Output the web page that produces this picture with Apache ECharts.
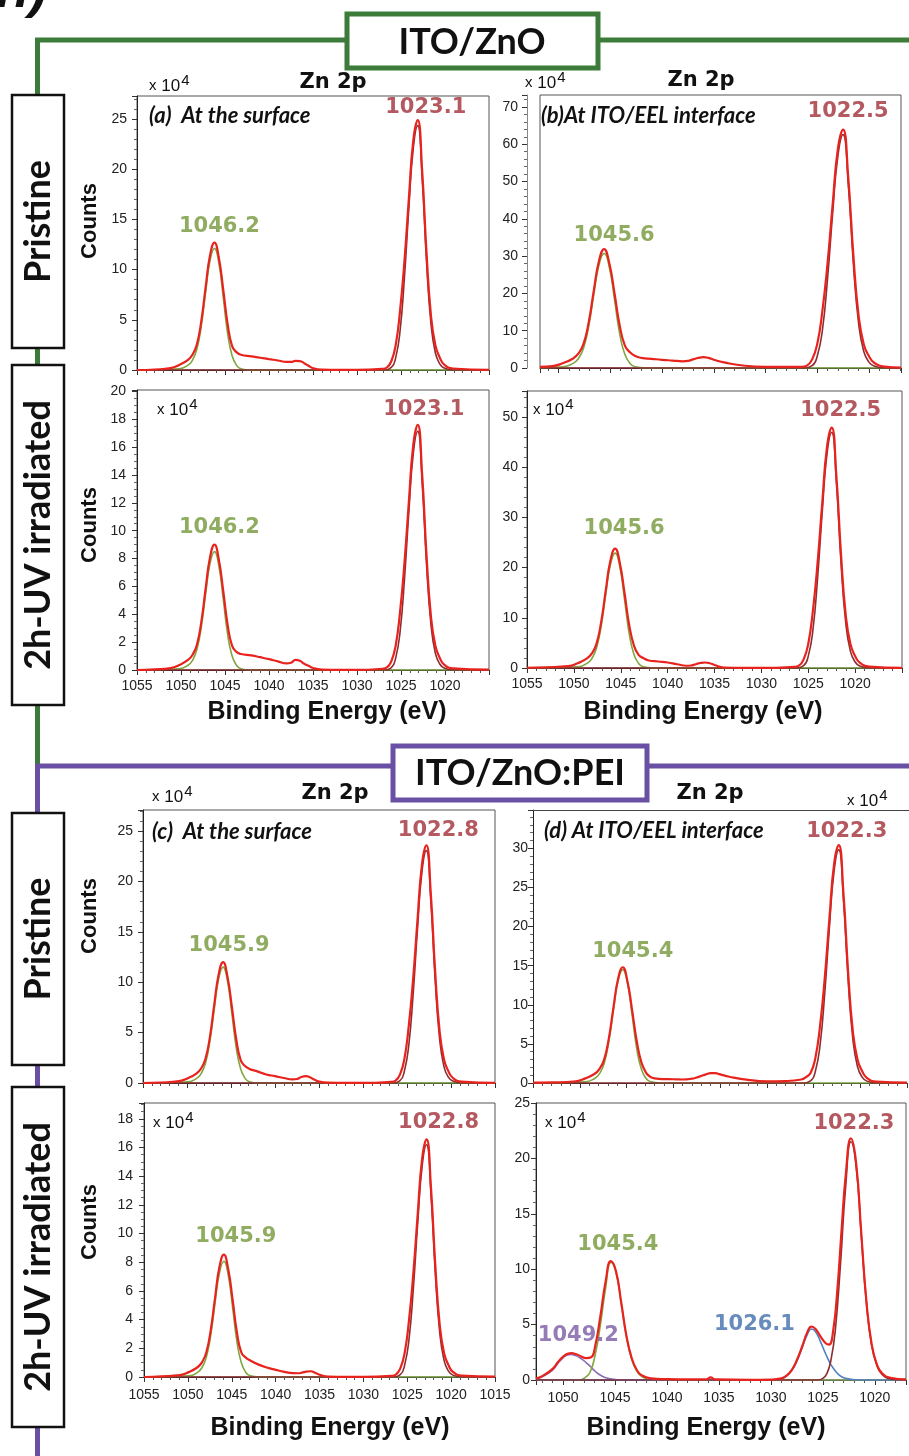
<!DOCTYPE html>
<html>
<head>
<meta charset="utf-8">
<script src="https://cdn.jsdelivr.net/npm/echarts@6/dist/echarts.min.js"></script>
<style>
  html, body { margin: 0; padding: 0; background: #fff; }
  #chart { width: 909px; height: 1456px; }
</style>
</head>
<body>
<div id="chart"></div>
<script>
// Zn 2p XPS spectra: binding energy (eV) vs counts (x10^4)
// Each curve is a list of [binding energy, counts] pairs.

// (a) ITO/ZnO, pristine, at the surface
const aMeasured = [[1055,0],[1053,0.05],[1051.2,0.19],[1050.2,0.51],[1049.2,1.02],[1048.7,1.52],[1048.2,2.54],[1047.7,4.83],[1047.2,8.26],[1046.7,11.43],[1046.2,12.7],[1045.7,11.18],[1045.2,8.0],[1044.7,4.57],[1044.2,2.41],[1043.7,1.78],[1043.2,1.52],[1042,1.35],[1041,1.22],[1040,1.08],[1039,0.95],[1038,0.8],[1037.5,0.8],[1037,0.9],[1036.5,0.88],[1036,0.68],[1035.5,0.42],[1035,0.18],[1034,0.04],[1032,0.02],[1030,0.02],[1027.1,0.12],[1026.6,0.25],[1026.1,0.87],[1025.6,2.49],[1025.1,5.98],[1024.6,10.96],[1024.1,17.18],[1023.6,22.91],[1023.1,24.9],[1022.6,19.92],[1022.1,11.7],[1021.6,5.48],[1021.1,2.49],[1020.6,1.25],[1020.1,0.55],[1019.1,0.15],[1015,0.02]];
const aFit2p12 = [[1055,0],[1050.2,0.12],[1049.2,0.48],[1048.7,0.97],[1048.2,2.06],[1047.7,4.36],[1047.2,7.74],[1046.7,10.89],[1046.2,12.1],[1045.7,10.65],[1045.2,7.26],[1044.7,3.63],[1044.2,1.45],[1043.7,0.48],[1043.2,0.12],[1042.2,0],[1015,0]];
const aFit2p32 = [[1055,0],[1027.1,0],[1026.1,0.25],[1025.6,1.23],[1025.1,3.94],[1024.6,9.35],[1024.1,16.24],[1023.6,22.14],[1023.1,24.35],[1022.6,19.19],[1022.1,10.82],[1021.6,4.67],[1021.1,1.72],[1020.6,0.62],[1020.1,0.2],[1019.1,0],[1015,0]];
const aPeaks = [1046.2, 1023.1];

// (a) ITO/ZnO, 2h-UV irradiated, at the surface
const a2Measured = [[1055,0],[1053,0.04],[1051.2,0.14],[1050.2,0.36],[1049.2,0.72],[1048.7,1.08],[1048.2,1.8],[1047.7,3.42],[1047.2,5.85],[1046.7,8.1],[1046.2,9.0],[1045.7,7.92],[1045.2,5.67],[1044.7,3.24],[1044.2,1.75],[1043.7,1.3],[1043.2,1.15],[1042,1.05],[1041,0.92],[1040,0.78],[1039,0.62],[1038,0.48],[1037.5,0.52],[1037,0.72],[1036.5,0.66],[1036,0.45],[1035.5,0.3],[1035,0.14],[1034,0.03],[1032,0.01],[1030,0.01],[1027.1,0.09],[1026.6,0.18],[1026.1,0.62],[1025.6,1.76],[1025.1,4.22],[1024.6,7.74],[1024.1,12.14],[1023.6,16.19],[1023.1,17.6],[1022.6,14.08],[1022.1,8.27],[1021.6,3.87],[1021.1,1.76],[1020.6,0.88],[1020.1,0.39],[1019.1,0.11],[1015,0.02]];
const a2Fit2p12 = [[1055,0],[1050.2,0.09],[1049.2,0.34],[1048.7,0.68],[1048.2,1.45],[1047.7,3.06],[1047.2,5.44],[1046.7,7.65],[1046.2,8.5],[1045.7,7.48],[1045.2,5.1],[1044.7,2.55],[1044.2,1.02],[1043.7,0.34],[1043.2,0.09],[1042.2,0],[1015,0]];
const a2Fit2p32 = [[1055,0],[1027.1,0],[1026.1,0.17],[1025.6,0.87],[1025.1,2.77],[1024.6,6.57],[1024.1,11.42],[1023.6,15.57],[1023.1,17.13],[1022.6,13.49],[1022.1,7.61],[1021.6,3.29],[1021.1,1.21],[1020.6,0.43],[1020.1,0.14],[1019.1,0],[1015,0]];
const a2Peaks = [1046.2, 1023.1];

// (b) ITO/ZnO, pristine, at ITO/EEL interface
const bMeasured = [[1051.8,0.3],[1050.6,0.48],[1049.6,1.28],[1048.6,2.55],[1048.1,3.83],[1047.6,6.38],[1047.1,12.12],[1046.6,20.74],[1046.1,28.71],[1045.6,31.9],[1045.1,28.07],[1044.6,20.1],[1044.1,11.48],[1043.6,6.06],[1043.1,4.2],[1042.6,3.2],[1042,2.7],[1041,2.45],[1040,2.2],[1039,2.0],[1038,1.8],[1037.5,1.9],[1037,2.3],[1036.5,2.7],[1036,2.9],[1035.5,2.7],[1035,2.2],[1034,1.5],[1032,0.6],[1030,0.3],[1026.5,0.32],[1026,0.64],[1025.5,2.24],[1025,6.39],[1024.5,15.34],[1024,28.12],[1023.5,44.09],[1023,58.79],[1022.5,63.9],[1022,51.12],[1021.5,30.03],[1021,14.06],[1020.5,6.39],[1020,3.2],[1019.5,1.41],[1018.5,0.38],[1016.9,0.1]];
const bFit2p12 = [[1051.8,0],[1049.6,0.31],[1048.6,1.23],[1048.1,2.46],[1047.6,5.22],[1047.1,11.05],[1046.6,19.65],[1046.1,27.63],[1045.6,30.7],[1045.1,27.02],[1044.6,18.42],[1044.1,9.21],[1043.6,3.68],[1043.1,1.23],[1042.6,0.31],[1041.6,0],[1016.9,0]];
const bFit2p32 = [[1051.8,0],[1026.5,0],[1025.5,0.63],[1025,3.16],[1024.5,10.11],[1024,24.02],[1023.5,41.71],[1023,56.88],[1022.5,62.57],[1022,49.3],[1021.5,27.81],[1021,12.01],[1020.5,4.42],[1020,1.58],[1019.5,0.51],[1018.5,0],[1016.9,0]];
const bPeaks = [1045.6, 1022.5];

// (b) ITO/ZnO, 2h-UV irradiated, at ITO/EEL interface
const b2Measured = [[1055,0.05],[1053,0.15],[1050.6,0.36],[1049.6,0.95],[1048.6,1.9],[1048.1,2.86],[1047.6,4.76],[1047.1,9.04],[1046.6,15.47],[1046.1,21.42],[1045.6,23.8],[1045.1,20.94],[1044.6,14.99],[1044.1,8.57],[1043.6,4.52],[1043.1,2.6],[1042.6,2.0],[1042,1.5],[1041,1.3],[1040,1.1],[1039,0.75],[1038,0.45],[1037.5,0.5],[1037,0.75],[1036.5,1.0],[1036,1.1],[1035.5,0.95],[1035,0.6],[1034,0.1],[1032,0.02],[1030,0.02],[1026.5,0.24],[1026,0.48],[1025.5,1.68],[1025,4.79],[1024.5,11.5],[1024,21.08],[1023.5,33.05],[1023,44.07],[1022.5,47.9],[1022,38.32],[1021.5,22.51],[1021,10.54],[1020.5,4.79],[1020,2.4],[1019.5,1.05],[1018.5,0.29],[1015,0.02]];
const b2Fit2p12 = [[1055,0],[1049.6,0.23],[1048.6,0.92],[1048.1,1.83],[1047.6,3.89],[1047.1,8.24],[1046.6,14.66],[1046.1,20.61],[1045.6,22.9],[1045.1,20.15],[1044.6,13.74],[1044.1,6.87],[1043.6,2.75],[1043.1,0.92],[1042.6,0.23],[1041.6,0],[1015,0]];
const b2Fit2p32 = [[1055,0],[1026.5,0],[1025.5,0.47],[1025,2.37],[1024.5,7.58],[1024,18.01],[1023.5,31.28],[1023,42.66],[1022.5,46.93],[1022,36.97],[1021.5,20.86],[1021,9.01],[1020.5,3.32],[1020,1.19],[1019.5,0.38],[1018.5,0],[1015,0]];
const b2Peaks = [1045.6, 1022.5];

// (c) ITO/ZnO:PEI, pristine, at the surface
const cMeasured = [[1055,0],[1053,0.05],[1050.9,0.18],[1049.9,0.48],[1048.9,0.96],[1048.4,1.44],[1047.9,2.4],[1047.4,4.56],[1046.9,7.8],[1046.4,10.8],[1045.9,12.0],[1045.4,10.56],[1044.9,7.56],[1044.4,4.32],[1043.9,2.28],[1043.4,1.68],[1042.9,1.4],[1042,1.15],[1041,0.85],[1040,0.68],[1039,0.5],[1038,0.36],[1037.5,0.4],[1037,0.6],[1036.5,0.68],[1036,0.55],[1035.5,0.32],[1035,0.15],[1034,0.04],[1032,0.01],[1030,0.01],[1026.8,0.12],[1026.3,0.24],[1025.8,0.83],[1025.3,2.36],[1024.8,5.66],[1024.3,10.38],[1023.8,16.28],[1023.3,21.71],[1022.8,23.6],[1022.3,18.88],[1021.8,11.09],[1021.3,5.19],[1020.8,2.36],[1020.3,1.18],[1019.8,0.52],[1018.8,0.14],[1015,0.02]];
const cFit2p12 = [[1055,0],[1049.9,0.12],[1048.9,0.46],[1048.4,0.92],[1047.9,1.96],[1047.4,4.14],[1046.9,7.36],[1046.4,10.35],[1045.9,11.5],[1045.4,10.12],[1044.9,6.9],[1044.4,3.45],[1043.9,1.38],[1043.4,0.46],[1042.9,0.12],[1041.9,0],[1015,0]];
const cFit2p32 = [[1055,0],[1026.8,0],[1025.8,0.23],[1025.3,1.17],[1024.8,3.73],[1024.3,8.85],[1023.8,15.38],[1023.3,20.97],[1022.8,23.07],[1022.3,18.17],[1021.8,10.25],[1021.3,4.43],[1020.8,1.63],[1020.3,0.58],[1019.8,0.19],[1018.8,0],[1015,0]];
const cPeaks = [1045.9, 1022.8];

// (c) ITO/ZnO:PEI, 2h-UV irradiated, at the surface
const c2Measured = [[1055,0],[1053,0.05],[1050.9,0.13],[1049.9,0.34],[1048.9,0.68],[1048.4,1.02],[1047.9,1.71],[1047.4,3.24],[1046.9,5.54],[1046.4,7.68],[1045.9,8.53],[1045.4,7.51],[1044.9,5.37],[1044.4,3.07],[1043.9,1.7],[1043.4,1.35],[1042.9,1.15],[1042,0.88],[1041,0.66],[1040,0.5],[1039,0.36],[1038,0.27],[1037.5,0.26],[1037,0.3],[1036.5,0.38],[1036,0.4],[1035.5,0.3],[1035,0.16],[1034,0.03],[1032,0.01],[1030,0.01],[1026.8,0.08],[1026.3,0.17],[1025.8,0.58],[1025.3,1.66],[1024.8,3.97],[1024.3,7.29],[1023.8,11.43],[1023.3,15.24],[1022.8,16.56],[1022.3,13.25],[1021.8,7.78],[1021.3,3.64],[1020.8,1.66],[1020.3,0.83],[1019.8,0.36],[1018.8,0.1],[1015,0.02]];
const c2Fit2p12 = [[1055,0],[1049.9,0.08],[1048.9,0.32],[1048.4,0.65],[1047.9,1.37],[1047.4,2.91],[1046.9,5.16],[1046.4,7.26],[1045.9,8.07],[1045.4,7.1],[1044.9,4.84],[1044.4,2.42],[1043.9,0.97],[1043.4,0.32],[1042.9,0.08],[1041.9,0],[1015,0]];
const c2Fit2p32 = [[1055,0],[1026.8,0],[1025.8,0.16],[1025.3,0.82],[1024.8,2.62],[1024.3,6.21],[1023.8,10.79],[1023.3,14.72],[1022.8,16.19],[1022.3,12.75],[1021.8,7.19],[1021.3,3.11],[1020.8,1.14],[1020.3,0.41],[1019.8,0.13],[1018.8,0],[1015,0]];
const c2Peaks = [1045.9, 1022.8];

// (d) ITO/ZnO:PEI, pristine, at ITO/EEL interface
const dMeasured = [[1055,0.05],[1053,0.08],[1050.4,0.22],[1049.4,0.59],[1048.4,1.18],[1047.9,1.78],[1047.4,2.96],[1046.9,5.62],[1046.4,9.62],[1045.9,13.32],[1045.4,14.8],[1044.9,13.02],[1044.4,9.32],[1043.9,5.33],[1043.4,2.6],[1042.9,1.3],[1042.4,0.75],[1042,0.6],[1041,0.5],[1040,0.48],[1039,0.45],[1038,0.55],[1037.5,0.7],[1037,0.9],[1036.5,1.1],[1036,1.25],[1035.5,1.25],[1035,1.1],[1034,0.8],[1032,0.4],[1030,0.22],[1028,0.25],[1026.3,0.45],[1025.8,0.75],[1025.3,1.3],[1024.8,3.2],[1024.3,7.3],[1023.8,13.38],[1023.3,20.98],[1022.8,27.97],[1022.3,30.4],[1021.8,24.32],[1021.3,14.29],[1020.8,6.69],[1020.3,3.04],[1019.8,1.52],[1019.3,0.67],[1018.3,0.18],[1015,0.05]];
const dFit2p12 = [[1055,0],[1049.4,0.15],[1048.4,0.58],[1047.9,1.16],[1047.4,2.47],[1046.9,5.22],[1046.4,9.28],[1045.9,13.05],[1045.4,14.5],[1044.9,12.76],[1044.4,8.7],[1043.9,4.35],[1043.4,1.74],[1042.9,0.58],[1042.4,0.15],[1041.4,0],[1015,0]];
const dFit2p32 = [[1055,0],[1026.3,0],[1025.3,0.3],[1024.8,1.51],[1024.3,4.82],[1023.8,11.44],[1023.3,19.87],[1022.8,27.09],[1022.3,29.8],[1021.8,23.48],[1021.3,13.24],[1020.8,5.72],[1020.3,2.11],[1019.8,0.75],[1019.3,0.24],[1018.3,0],[1015,0]];
const dPeaks = [1045.4, 1022.3];

// (d) ITO/ZnO:PEI, 2h-UV irradiated, at ITO/EEL interface (four components)
const d2Measured = [[1052.6,0.15],[1052,0.35],[1051,1.0],[1050.5,1.6],[1050,2.1],[1049.5,2.38],[1049.2,2.42],[1048.8,2.35],[1048.3,2.15],[1047.8,1.98],[1047.3,2.05],[1046.9,3.1],[1046.4,5.8],[1045.9,8.9],[1045.4,10.72],[1044.9,9.8],[1044.4,7.0],[1043.9,4.0],[1043.4,2.0],[1042.9,0.9],[1042.4,0.4],[1041.5,0.15],[1040,0.08],[1038,0.05],[1036.2,0.06],[1035.8,0.24],[1035.4,0.06],[1032,0.02],[1030,0.04],[1029,0.15],[1028.5,0.4],[1028,0.9],[1027.5,1.8],[1027,3.0],[1026.5,4.3],[1026.1,4.83],[1025.7,4.6],[1025.2,3.9],[1024.7,3.3],[1024.4,3.2],[1024,4.5],[1023.6,8.2],[1023.2,13.5],[1022.8,18.5],[1022.3,21.8],[1021.8,19.6],[1021.3,13.2],[1020.8,7.0],[1020.3,3.2],[1019.8,1.4],[1019.3,0.6],[1018.5,0.2],[1017,0.05]];
const d2Fit1049 = [[1052.6,0.1],[1052,0.3],[1051,0.9],[1050.5,1.5],[1050,2.0],[1049.6,2.25],[1049.2,2.3],[1048.8,2.2],[1048.3,1.95],[1047.8,1.6],[1047.3,1.15],[1046.8,0.7],[1046.3,0.38],[1045.8,0.18],[1045,0.05],[1044,0],[1017,0]];
const d2Fit2p12 = [[1052.6,0],[1048.4,0],[1047.9,0.2],[1047.4,0.7],[1046.9,2.3],[1046.4,5.0],[1045.9,8.3],[1045.4,10.6],[1044.9,9.7],[1044.4,6.9],[1043.9,3.9],[1043.4,1.9],[1042.9,0.8],[1042.4,0.3],[1041.4,0],[1017,0]];
const d2Fit1026 = [[1052.6,0],[1030,0],[1029,0.1],[1028.5,0.35],[1028,0.85],[1027.5,1.7],[1027,2.9],[1026.5,4.1],[1026.1,4.6],[1025.7,4.35],[1025.2,3.4],[1024.7,2.3],[1024.2,1.35],[1023.7,0.7],[1023.2,0.3],[1022.5,0.1],[1021.5,0],[1017,0]];
const d2Fit2p32 = [[1052.6,0],[1025.5,0],[1025,0.15],[1024.6,0.6],[1024.2,1.9],[1023.8,4.5],[1023.3,10.5],[1022.8,17.5],[1022.3,21.5],[1021.8,19.3],[1021.3,13.0],[1020.8,6.9],[1020.3,3.1],[1019.8,1.3],[1019.3,0.5],[1018.5,0.1],[1017.5,0],[1017,0]];
const d2Peaks = [1049.2, 1045.4, 1026.1, 1022.3];

// ---------- styling ----------
const RED = '#e8231e', GREEN = '#7fa640', DARKRED = '#8c2d30', PURPLE = '#8b6cb8', BLUE = '#4f80c3';
const LBL_GREEN = '#74973a', LBL_RED = '#a2303a', LBL_PURPLE = '#7a5ba4', LBL_BLUE = '#406eab';
const FRAME_GREEN = '#3d7b3b', FRAME_PURPLE = '#6a50a4';
const TICK_FONT = 'Liberation Sans';

const panels = [
  { measured: aMeasured, fits: [[aFit2p12, GREEN], [aFit2p32, DARKRED]], peaks: aPeaks,
    peakStyle: [[LBL_GREEN, [5, -16]], [LBL_RED, [8, -13]]],
    box: [137, 96, 352, 274], xRange: [1015, 1055], xInterval: 5, xLabels: false,
    yMax: 27.3, yInterval: 5, yMinor: 5, yMargin: 10 },
  { measured: a2Measured, fits: [[a2Fit2p12, GREEN], [a2Fit2p32, DARKRED]], peaks: a2Peaks,
    peakStyle: [[LBL_GREEN, [5, -17]], [LBL_RED, [6, -15]]],
    box: [137, 390, 352, 280], xRange: [1015, 1055], xInterval: 5, xLabels: true, xHide: [1015], xMargin: 9,
    yMax: 20.1, yInterval: 2, yMinor: 4, yMargin: 11 },
  { measured: bMeasured, fits: [[bFit2p12, GREEN], [bFit2p32, DARKRED]], peaks: bPeaks,
    peakStyle: [[LBL_GREEN, [10, -13]], [LBL_RED, [5, -18]]],
    box: [540, 95, 361, 273], xRange: [1016.9, 1051.8], xInterval: null, xLabels: false,
    yMax: 73.2, yInterval: 10, yMinor: 5, yMargin: 9, yOffset: 13, yLine: '#888' },
  { measured: b2Measured, fits: [[b2Fit2p12, GREEN], [b2Fit2p32, DARKRED]], peaks: b2Peaks,
    peakStyle: [[LBL_GREEN, [9, -20]], [LBL_RED, [9, -17]]],
    box: [527, 391, 375, 277], xRange: [1015, 1055], xInterval: 5, xLabels: true, xHide: [1015], xMargin: 9,
    yMax: 55.2, yInterval: 10, yMinor: 5, yMargin: 9 },
  { measured: cMeasured, fits: [[cFit2p12, GREEN], [cFit2p32, DARKRED]], peaks: cPeaks,
    peakStyle: [[LBL_GREEN, [6, -17]], [LBL_RED, [12, -15]]],
    box: [143, 810, 352, 273], xRange: [1015, 1055], xInterval: 5, xLabels: false,
    yMax: 27.1, yInterval: 5, yMinor: 5, yMargin: 10 },
  { measured: c2Measured, fits: [[c2Fit2p12, GREEN], [c2Fit2p32, DARKRED]], peaks: c2Peaks,
    peakStyle: [[LBL_GREEN, [12, -18]], [LBL_RED, [12, -17]]],
    box: [144, 1103, 351, 274], xRange: [1015, 1055], xInterval: 5, xLabels: true, xMargin: 11,
    yMax: 19.1, yInterval: 2, yMinor: 4, yMargin: 11 },
  { measured: dMeasured, fits: [[dFit2p12, GREEN], [dFit2p32, DARKRED]], peaks: dPeaks,
    peakStyle: [[LBL_GREEN, [10, -16]], [LBL_RED, [8, -14]]],
    box: [533, 810, 374, 273], frame: false, xRange: [1015, 1055], xInterval: 5, xLabels: false,
    yMax: 34.9, yInterval: 5, yMinor: 5, yMargin: 5 },
  { measured: d2Measured, fits: [[d2Fit1049, PURPLE], [d2Fit2p12, GREEN], [d2Fit1026, BLUE], [d2Fit2p32, DARKRED]], peaks: d2Peaks,
    peakStyle: [[LBL_PURPLE, [7, -18]], [LBL_GREEN, [7, -17]], [LBL_BLUE, [-57, -2]], [LBL_RED, [3, -15]]],
    box: [536, 1103, 372, 277], xRange: [1017, 1052.6], xInterval: null, xLabels: true, xMargin: 11,
    yMax: 25, yInterval: 5, yMinor: 5, yMargin: 6 }
];

function onStep(v, step) {
  const r = v / step;
  return Math.abs(r - Math.round(r)) < 1e-6;
}
function countsAt(curve, e) {
  const p = curve.find(d => Math.abs(d[0] - e) < 1e-6);
  return p ? p[1] : 0;
}

const grids = [], xAxes = [], yAxes = [], series = [];

panels.forEach((p, i) => {
  grids.push({
    left: p.box[0], top: p.box[1], width: p.box[2], height: p.box[3],
    show: p.frame !== false, borderColor: '#555', borderWidth: 1, backgroundColor: 'transparent'
  });
  const hide = p.xHide || [];
  const xAxis = {
    type: 'value', gridIndex: i, inverse: true, min: p.xRange[0], max: p.xRange[1],
    axisLine: { show: true, onZero: false, lineStyle: { color: '#222', width: 1 } },
    axisTick: { show: true, length: 5, lineStyle: { color: '#333', width: 1 } },
    minorTick: { show: true, splitNumber: 5, length: 3, lineStyle: { color: '#555', width: 1 } },
    splitLine: { show: false },
    axisLabel: {
      show: p.xLabels, margin: p.xMargin || 10, fontFamily: TICK_FONT, fontSize: 14, color: '#222',
      formatter: v => (onStep(v, 5) && hide.indexOf(v) < 0) ? String(Math.round(v)) : ''
    }
  };
  if (p.xInterval) xAxis.interval = p.xInterval; else xAxis.splitNumber = 7;
  xAxes.push(xAxis);

  yAxes.push({
    type: 'value', gridIndex: i, min: 0, max: p.yMax, interval: p.yInterval, offset: p.yOffset || 0,
    axisLine: { show: true, onZero: false, lineStyle: { color: p.yLine || '#222', width: 1 } },
    axisTick: { show: true, length: 5, lineStyle: { color: '#333', width: 1 } },
    minorTick: { show: true, splitNumber: p.yMinor, length: 3, lineStyle: { color: '#666', width: 1 } },
    splitLine: { show: false },
    axisLabel: {
      margin: p.yMargin, fontFamily: TICK_FONT, fontSize: 14, color: '#222',
      formatter: v => onStep(v, p.yInterval) ? String(Math.round(v)) : ''
    }
  });

  // fitted components underneath
  p.fits.forEach(([curve, color]) => {
    series.push({
      type: 'line', xAxisIndex: i, yAxisIndex: i, data: curve,
      showSymbol: false, symbol: 'none', smooth: 0.5,
      lineStyle: { color: color, width: 1.6 }, z: 2, silent: true, animation: false
    });
  });
  // measured envelope on top
  series.push({
    type: 'line', xAxisIndex: i, yAxisIndex: i, data: p.measured,
    showSymbol: false, symbol: 'none', smooth: 0.5,
    lineStyle: { color: RED, width: 2.2 }, z: 3, silent: true, animation: false
  });
  // peak position labels, anchored on the measured curve
  series.push({
    type: 'scatter', xAxisIndex: i, yAxisIndex: i, symbolSize: 1, z: 5, silent: true, animation: false,
    itemStyle: { color: 'rgba(0,0,0,0)' },
    data: p.peaks.map((e, k) => ({
      value: [e, countsAt(p.measured, e)],
      label: { color: p.peakStyle[k][0], offset: p.peakStyle[k][1] }
    })),
    label: {
      show: true, position: 'inside', fontFamily: 'DejaVu Sans', fontWeight: 'bold', fontSize: 21,
      formatter: d => d.value[0].toFixed(1)
    }
  });
});

// ---------- figure furniture ----------
const g = [];
const poly = (pts, color, w) => ({ type: 'polyline', silent: true, z: 1,
  shape: { points: pts }, style: { stroke: color, lineWidth: w, fill: null } });
const box = (x, y, w, h, color, lw) => ({ type: 'rect', silent: true, z: 2,
  shape: { x: x, y: y, width: w, height: h }, style: { fill: '#fff', stroke: color, lineWidth: lw } });
const text = (t, x, y, opts) => Object.assign({ type: 'text', silent: true, z: 3, x: x, y: y,
  style: Object.assign({ text: t, fill: '#111', textAlign: 'center', textVerticalAlign: 'middle' }, opts.style || {}) },
  opts.rotation ? { rotation: opts.rotation } : {});

// partial panel tag at the very top
g.push(text('h)', -4, -8, { style: { textAlign: 'left', fontFamily: 'Liberation Sans', fontWeight: 'bold', fontStyle: 'italic', fontSize: 54 } }));

// group connectors
g.push(poly([[37.5, 766], [37.5, 40], [347, 40]], FRAME_GREEN, 5));
g.push(poly([[598, 40], [912, 40]], FRAME_GREEN, 5));
g.push(poly([[37.5, 1460], [37.5, 766], [393, 766]], FRAME_PURPLE, 5));
g.push(poly([[647, 766], [912, 766]], FRAME_PURPLE, 5));

// group title boxes
g.push(box(347, 14, 251, 54, FRAME_GREEN, 5));
g.push(text('ITO/ZnO', 472, 42, { style: { fontFamily: 'Lato', fontWeight: 'bold', fontSize: 36 } }));
g.push(box(393, 746, 254, 54, FRAME_PURPLE, 5));
g.push(text('ITO/ZnO:PEI', 520, 773, { style: { fontFamily: 'Lato', fontWeight: 'bold', fontSize: 36 } }));

// row label boxes
const rowLabels = [['Pristine', 95, 253], ['2h-UV irradiated', 365, 340], ['Pristine', 813, 252], ['2h-UV irradiated', 1087, 340]];
rowLabels.forEach(([t, y, h]) => {
  g.push(box(12, y, 52, h, '#111', 2.5));
  g.push(text(t, 38, y + h / 2, { rotation: Math.PI / 2, style: { fontFamily: 'Lato', fontWeight: 'bold', fontSize: 36 } }));
});

// top border for panel (d), which runs off the right edge
g.push(poly([[533, 810.5], [912, 810.5]], '#444', 1));

// panel headings
[[333, 83], [701, 81], [335, 794], [710, 794]].forEach(([x, y]) =>
  g.push(text('Zn 2p', x, y, { style: { fontFamily: 'DejaVu Sans', fontWeight: 'bold', fontSize: 21, letterSpacing: 1 } })));

// x10^4 multipliers
const mult = (x, y) => ({ type: 'text', silent: true, z: 3, x: x, y: y,
  style: { text: '{a|x}{b| 10}{c|4}', textAlign: 'left', textVerticalAlign: 'middle', fill: '#111',
    rich: { a: { fontFamily: TICK_FONT, fontSize: 15, fill: '#111' },
            b: { fontFamily: TICK_FONT, fontSize: 17, fill: '#111' },
            c: { fontFamily: TICK_FONT, fontSize: 15, fill: '#111', padding: [0, 0, 10, 1] } } } });
[[149, 86], [525, 83], [157, 410], [533, 410], [152, 797], [847, 801], [153, 1123], [545, 1123]].forEach(([x, y]) => g.push(mult(x, y)));

// in-panel captions
const capStyle = { fontFamily: 'Lato', fontWeight: 'bold', fontStyle: 'italic', fontSize: 22, textAlign: 'left' };
g.push(text('(a)  At the surface', 149, 116, { style: capStyle }));
g.push(text('(b)At ITO/EEL interface', 541, 116, { style: capStyle }));
g.push(text('(c)  At the surface', 152, 832, { style: capStyle }));
g.push(text('(d) At ITO/EEL interface', 544, 831, { style: capStyle }));

// axis titles
const axTitle = { fontFamily: 'Liberation Sans', fontWeight: 'bold', fontSize: 22 };
[[90, 221], [90, 525], [90, 916], [90, 1222]].forEach(([x, y]) =>
  g.push(text('Counts', x, y, { rotation: Math.PI / 2, style: axTitle })));
const xTitle = { fontFamily: 'Liberation Sans', fontWeight: 'bold', fontSize: 25 };
[[327, 712], [703, 712], [330, 1428], [706, 1428]].forEach(([x, y]) =>
  g.push(text('Binding Energy (eV)', x, y, { style: xTitle })));

const chart = echarts.init(document.getElementById('chart'), null, { renderer: 'canvas' });
chart.setOption({
  backgroundColor: '#fff',
  animation: false,
  grid: grids,
  xAxis: xAxes,
  yAxis: yAxes,
  series: series,
  graphic: { elements: g }
});
</script>
</body>
</html>
